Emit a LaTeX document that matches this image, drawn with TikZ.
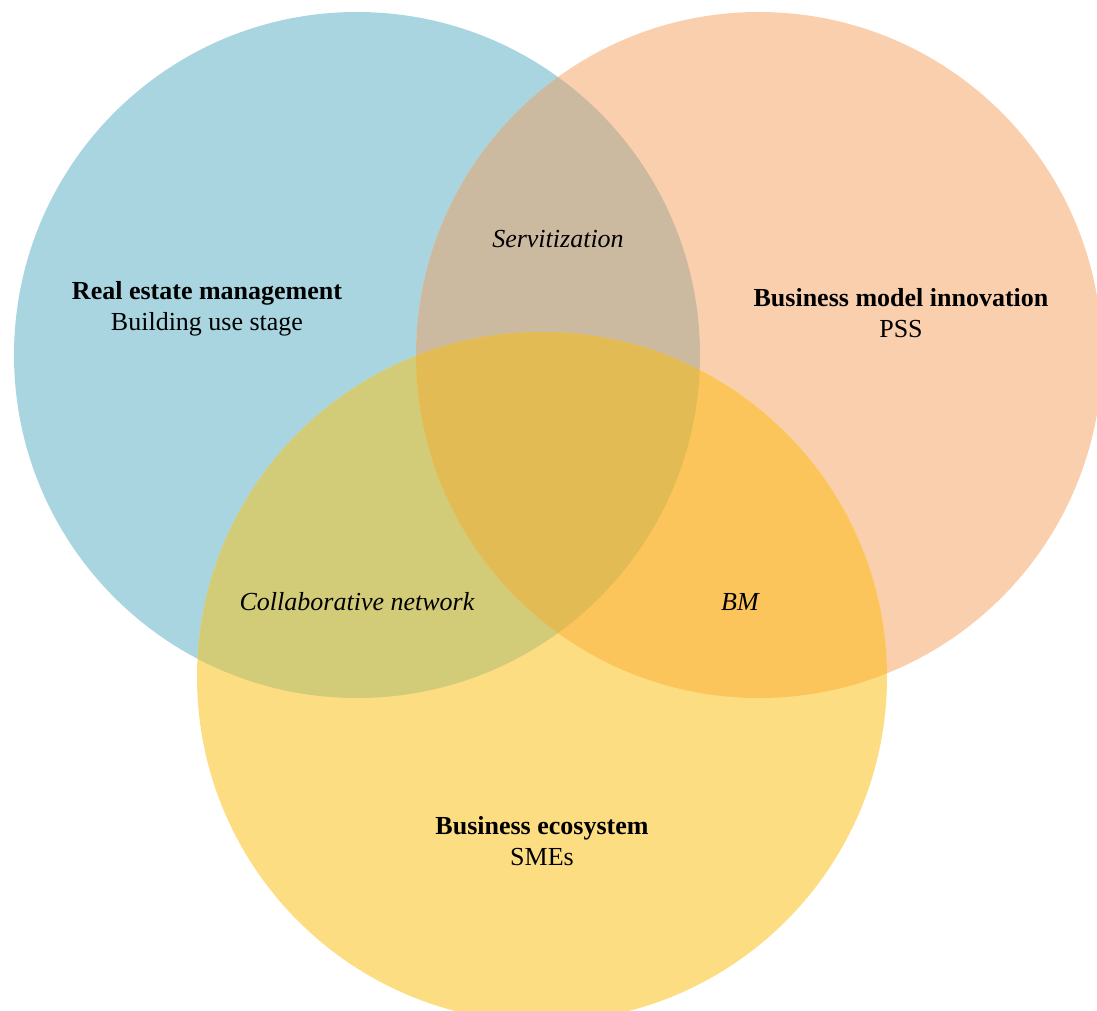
\documentclass[tikz,border=0pt]{standalone}
\usepackage{fontspec}
\setmainfont{Liberation Serif}
\definecolor{cblue}{HTML}{A8D5E0}
\definecolor{corange}{HTML}{F9CFAD}
\definecolor{cyellow}{HTML}{FDDD82}
\definecolor{cbo}{HTML}{CCBAA0}
\definecolor{cby}{HTML}{D2CB78}
\definecolor{coy}{HTML}{FBC55B}
\definecolor{call}{HTML}{E3BB55}
\tikzset{
  setlabel/.style={align=center, font=\fontsize{26}{31.5}\selectfont},
  overlap/.style={font=\fontsize{26}{31.5}\selectfont\itshape},
}
\begin{document}
\begin{tikzpicture}[x=1pt,y=-1pt]
\useasboundingbox (0,0) rectangle (1097,1011);
\def\pathA{(357,355) circle[radius=343]}
\def\pathB{(759,355) circle[radius=343]}
\def\pathC{(542,677) circle[radius=345]}
% single sets
\fill[cblue] \pathA;
\fill[corange] \pathB;
\fill[cyellow] \pathC;
% pairwise overlaps
\begin{scope}\clip \pathA; \fill[cbo] \pathB; \end{scope}
\begin{scope}\clip \pathA; \fill[cby] \pathC; \end{scope}
\begin{scope}\clip \pathB; \fill[coy] \pathC; \end{scope}
% triple overlap
\begin{scope}\clip \pathA; \clip \pathB; \fill[call] \pathC; \end{scope}
% labels
\node[setlabel] (rem) at (207,309) {\textbf{Real estate management}\\Building use stage};
\node[setlabel] (bmi) at (901,313) {\textbf{Business model innovation}\\PSS};
\node[setlabel] (beco) at (542,841) {\textbf{Business ecosystem}\\SMEs};
\node[overlap] (serv) at (558,239) {Servitization};
\node[overlap] (coll) at (357,602) {Collaborative network};
\node[overlap] (bm) at (740,602) {BM};
\end{tikzpicture}
\end{document}
